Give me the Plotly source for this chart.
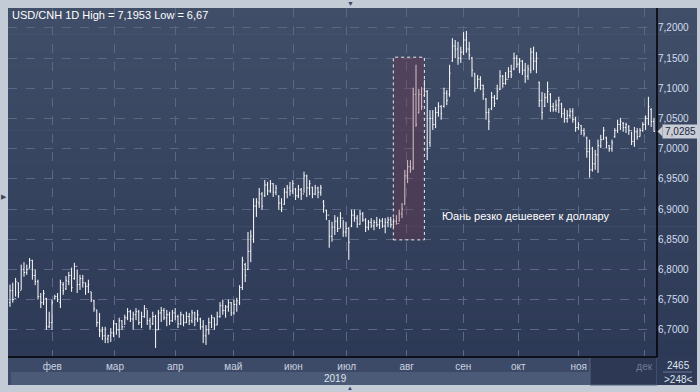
import plotly.graph_objects as go

# ---------------- data ----------------
title_text = "USD/CNH 1D High = 7,1953 Low = 6,67"
note_text = "Юань резко дешевеет к доллару"
month_labels = ["фев", "мар", "апр", "май", "июн", "июл", "авг", "сен", "окт", "ноя", "дек"]
month_pos = [15.1, 37.5, 59.0, 79.75, 101.2, 120.25, 141.7, 161.9, 181.5, 203.1, 226.5]
year_label = "2019"
y_ticks = [6.70, 6.75, 6.80, 6.85, 6.90, 6.95, 7.00, 7.05, 7.10, 7.15, 7.20]
last_price = 7.0285
counter_top = "2465"
counter_bottom = ">248<"
highlight_x = [136.9, 148.0]
highlight_y = [6.849, 7.1515]
note_pos = [153.6, 6.889]

opens = [
    6.745, 6.765, 6.752, 6.778, 6.765, 6.800, 6.795, 6.802, 6.815, 6.790,
    6.780, 6.755, 6.745, 6.752, 6.705, 6.712, 6.752, 6.755, 6.745, 6.775,
    6.768, 6.780, 6.790, 6.785, 6.805, 6.775, 6.785, 6.778, 6.772, 6.763,
    6.748, 6.733, 6.712, 6.698, 6.690, 6.685, 6.690, 6.695, 6.710, 6.700,
    6.715, 6.705, 6.720, 6.730, 6.718, 6.725, 6.730, 6.712, 6.722, 6.735,
    6.715, 6.710, 6.722, 6.700, 6.728, 6.732, 6.720, 6.725, 6.715, 6.728,
    6.722, 6.710, 6.725, 6.712, 6.722, 6.715, 6.728, 6.718, 6.718, 6.705,
    6.690, 6.700, 6.712, 6.720, 6.708, 6.722, 6.740, 6.732, 6.738, 6.745,
    6.728, 6.742, 6.745, 6.770, 6.808, 6.800, 6.830, 6.850, 6.905, 6.910,
    6.925, 6.922, 6.940, 6.930, 6.942, 6.928, 6.921, 6.910, 6.908, 6.928,
    6.935, 6.930, 6.933, 6.922, 6.932, 6.925, 6.955, 6.935, 6.936, 6.925,
    6.935, 6.928, 6.912, 6.898, 6.890, 6.855, 6.870, 6.880, 6.868, 6.885,
    6.862, 6.868, 6.872, 6.890, 6.885, 6.875, 6.892, 6.882, 6.870, 6.878,
    6.872, 6.878, 6.874, 6.880, 6.872, 6.878, 6.882, 6.874, 6.880, 6.876,
    6.892, 6.908, 6.955, 6.970, 6.968, 7.090, 7.060, 7.090, 7.088, 7.095,
    7.010, 7.050, 7.040, 7.060, 7.070, 7.070, 7.092, 7.090, 7.145, 7.170,
    7.165, 7.150, 7.160, 7.180, 7.165, 7.150, 7.125, 7.100, 7.115, 7.105,
    7.082, 7.060, 7.066, 7.085, 7.083, 7.098, 7.120, 7.108, 7.115, 7.128,
    7.132, 7.150, 7.140, 7.145, 7.130, 7.120, 7.130, 7.160, 7.145, 7.110,
    7.080, 7.070, 7.085, 7.090, 7.070, 7.065, 7.072, 7.074, 7.058, 7.050,
    7.055, 7.062, 7.048, 7.035, 7.038, 7.030, 7.018, 6.995, 6.965, 6.975,
    6.990, 7.005, 7.015, 7.018, 7.005, 7.000, 7.020, 7.030, 7.040, 7.042,
    7.035, 7.036, 7.030, 7.012, 7.028, 7.020, 7.030, 7.040, 7.050, 7.065,
    7.045,
]
highs = [
    6.775, 6.778, 6.786, 6.778, 6.808, 6.812, 6.808, 6.819, 6.816, 6.800,
    6.783, 6.761, 6.766, 6.753, 6.730, 6.750, 6.758, 6.761, 6.783, 6.779,
    6.789, 6.796, 6.803, 6.811, 6.800, 6.791, 6.791, 6.778, 6.783, 6.763,
    6.750, 6.733, 6.728, 6.705, 6.705, 6.692, 6.703, 6.716, 6.711, 6.720,
    6.716, 6.725, 6.736, 6.733, 6.730, 6.736, 6.733, 6.730, 6.741, 6.733,
    6.720, 6.730, 6.725, 6.733, 6.738, 6.736, 6.733, 6.730, 6.733, 6.736,
    6.725, 6.730, 6.725, 6.730, 6.728, 6.733, 6.730, 6.733, 6.720, 6.716,
    6.708, 6.720, 6.725, 6.720, 6.730, 6.746, 6.750, 6.741, 6.750, 6.746,
    6.750, 6.753, 6.774, 6.821, 6.811, 6.862, 6.865, 6.918, 6.918, 6.935,
    6.928, 6.948, 6.945, 6.948, 6.943, 6.940, 6.923, 6.918, 6.935, 6.940,
    6.945, 6.948, 6.935, 6.940, 6.935, 6.962, 6.957, 6.948, 6.937, 6.940,
    6.937, 6.940, 6.915, 6.899, 6.882, 6.879, 6.890, 6.887, 6.895, 6.882,
    6.879, 6.870, 6.899, 6.899, 6.890, 6.899, 6.895, 6.885, 6.882, 6.885,
    6.882, 6.887, 6.884, 6.885, 6.885, 6.887, 6.887, 6.885, 6.890, 6.899,
    6.910, 6.965, 6.981, 6.981, 7.101, 7.139, 7.099, 7.102, 7.114, 7.097,
    7.064, 7.064, 7.069, 7.077, 7.072, 7.101, 7.097, 7.139, 7.183, 7.180,
    7.177, 7.169, 7.193, 7.195, 7.177, 7.152, 7.125, 7.122, 7.120, 7.106,
    7.084, 7.067, 7.094, 7.089, 7.106, 7.130, 7.122, 7.127, 7.135, 7.139,
    7.159, 7.155, 7.150, 7.147, 7.142, 7.139, 7.167, 7.169, 7.160, 7.111,
    7.094, 7.092, 7.111, 7.092, 7.076, 7.081, 7.086, 7.076, 7.067, 7.064,
    7.067, 7.067, 7.053, 7.044, 7.039, 7.034, 7.020, 7.015, 7.003, 6.998,
    7.015, 7.023, 7.036, 7.020, 7.006, 7.015, 7.034, 7.048, 7.051, 7.044,
    7.043, 7.039, 7.028, 7.036, 7.034, 7.034, 7.044, 7.055, 7.086, 7.067,
    7.051,
]
lows = [
    6.738, 6.745, 6.755, 6.753, 6.766, 6.788, 6.791, 6.802, 6.783, 6.774,
    6.750, 6.736, 6.741, 6.700, 6.703, 6.700, 6.750, 6.746, 6.736, 6.758,
    6.766, 6.774, 6.763, 6.783, 6.761, 6.766, 6.770, 6.758, 6.761, 6.746,
    6.730, 6.705, 6.688, 6.683, 6.678, 6.678, 6.680, 6.688, 6.692, 6.687,
    6.700, 6.708, 6.716, 6.713, 6.700, 6.716, 6.708, 6.703, 6.720, 6.708,
    6.700, 6.708, 6.670, 6.700, 6.713, 6.716, 6.706, 6.708, 6.713, 6.716,
    6.703, 6.708, 6.706, 6.711, 6.708, 6.711, 6.706, 6.713, 6.700, 6.678,
    6.675, 6.692, 6.703, 6.700, 6.708, 6.720, 6.725, 6.720, 6.730, 6.723,
    6.725, 6.730, 6.741, 6.766, 6.779, 6.799, 6.812, 6.844, 6.887, 6.902,
    6.899, 6.920, 6.923, 6.927, 6.920, 6.923, 6.899, 6.895, 6.907, 6.918,
    6.922, 6.925, 6.915, 6.918, 6.915, 6.927, 6.920, 6.923, 6.918, 6.923,
    6.918, 6.922, 6.894, 6.882, 6.836, 6.846, 6.857, 6.862, 6.869, 6.854,
    6.854, 6.816, 6.870, 6.879, 6.869, 6.874, 6.879, 6.862, 6.865, 6.869,
    6.865, 6.870, 6.867, 6.869, 6.860, 6.870, 6.869, 6.870, 6.874, 6.879,
    6.885, 6.907, 6.943, 6.960, 6.965, 7.036, 7.058, 7.064, 7.086, 6.981,
    7.003, 7.031, 7.034, 7.053, 7.048, 7.068, 7.072, 7.086, 7.144, 7.150,
    7.139, 7.142, 7.155, 7.159, 7.147, 7.119, 7.094, 7.101, 7.097, 7.081,
    7.048, 7.031, 7.064, 7.069, 7.081, 7.097, 7.101, 7.106, 7.117, 7.117,
    7.130, 7.134, 7.125, 7.122, 7.109, 7.114, 7.125, 7.130, 7.125, 7.069,
    7.048, 7.069, 7.076, 7.061, 7.061, 7.061, 7.059, 7.051, 7.043, 7.043,
    7.051, 7.043, 7.028, 7.031, 7.023, 7.020, 6.985, 6.952, 6.962, 6.965,
    6.960, 7.001, 7.015, 7.001, 6.995, 6.995, 7.018, 7.026, 7.031, 7.028,
    7.026, 7.023, 7.006, 7.003, 7.015, 7.020, 7.028, 7.031, 7.039, 7.036,
    7.028,
]
closes = [
    6.765, 6.750, 6.780, 6.762, 6.800, 6.795, 6.800, 6.815, 6.790, 6.780,
    6.755, 6.745, 6.760, 6.705, 6.712, 6.745, 6.755, 6.750, 6.778, 6.765,
    6.782, 6.790, 6.770, 6.805, 6.775, 6.785, 6.778, 6.772, 6.775, 6.750,
    6.735, 6.712, 6.698, 6.690, 6.685, 6.690, 6.695, 6.710, 6.700, 6.715,
    6.705, 6.720, 6.730, 6.718, 6.725, 6.730, 6.712, 6.722, 6.735, 6.715,
    6.705, 6.722, 6.700, 6.728, 6.732, 6.720, 6.725, 6.715, 6.728, 6.722,
    6.710, 6.725, 6.712, 6.722, 6.715, 6.728, 6.718, 6.725, 6.705, 6.690,
    6.700, 6.712, 6.720, 6.708, 6.722, 6.740, 6.732, 6.738, 6.745, 6.728,
    6.742, 6.748, 6.770, 6.815, 6.790, 6.830, 6.855, 6.905, 6.912, 6.925,
    6.905, 6.940, 6.930, 6.942, 6.928, 6.935, 6.910, 6.902, 6.928, 6.935,
    6.930, 6.942, 6.922, 6.932, 6.925, 6.955, 6.935, 6.942, 6.925, 6.935,
    6.928, 6.935, 6.905, 6.890, 6.855, 6.870, 6.880, 6.868, 6.885, 6.862,
    6.868, 6.845, 6.890, 6.885, 6.875, 6.892, 6.882, 6.870, 6.878, 6.872,
    6.878, 6.874, 6.880, 6.872, 6.878, 6.882, 6.874, 6.880, 6.876, 6.892,
    6.900, 6.955, 6.970, 6.965, 7.090, 7.040, 7.090, 7.070, 7.095, 7.000,
    7.050, 7.040, 7.060, 7.070, 7.058, 7.092, 7.080, 7.125, 7.170, 7.165,
    7.150, 7.160, 7.180, 7.165, 7.155, 7.130, 7.100, 7.115, 7.105, 7.090,
    7.060, 7.045, 7.085, 7.075, 7.095, 7.120, 7.108, 7.115, 7.128, 7.122,
    7.150, 7.140, 7.145, 7.130, 7.120, 7.132, 7.160, 7.145, 7.150, 7.080,
    7.060, 7.085, 7.095, 7.070, 7.065, 7.072, 7.080, 7.058, 7.050, 7.055,
    7.062, 7.048, 7.035, 7.040, 7.030, 7.025, 6.995, 6.965, 6.975, 6.990,
    7.005, 7.015, 7.030, 7.010, 7.000, 7.010, 7.030, 7.040, 7.045, 7.035,
    7.040, 7.030, 7.012, 7.028, 7.020, 7.030, 7.040, 7.050, 7.070, 7.045,
    7.0285,
]
bar_index = list(range(len(closes)))

# ---------------- geometry / style ----------------
W, H = 700, 392
L, R, T, B = 8, 657, 8, 357          # plot area in pixels
PW, PH = R - L, B - T


def px(X):
    return (X - L) / PW


def py(Y):
    return (B - Y) / PH


FONT = "Liberation Sans"
fig = go.Figure()
fig.add_trace(go.Ohlc(
    x=bar_index, open=opens, high=highs, low=lows, close=closes,
    increasing=dict(line=dict(color="#ffffff", width=1)),
    decreasing=dict(line=dict(color="#ffffff", width=1)),
    tickwidth=0.34, hoverinfo="skip", showlegend=False,
))

shapes = []
# vertical gradient background (plot + right axis panel)
n = 40
top_c, bot_c = (64, 78, 104), (45, 57, 86)
for k in range(n):
    t = k / (n - 1)
    c = tuple(round(top_c[j] + (bot_c[j] - top_c[j]) * t) for j in range(3))
    shapes.append(dict(type="rect", xref="paper", yref="paper", layer="below",
                       x0=px(L), x1=px(697), y0=1 - (k + 1) / n - 0.002, y1=1 - k / n,
                       fillcolor="rgb(%d,%d,%d)" % c, line=dict(width=0)))
# month band and year band
shapes.append(dict(type="rect", xref="paper", yref="paper", layer="below",
                   x0=px(L), x1=px(R), y0=py(372), y1=py(B),
                   fillcolor="#3d4a67", line=dict(width=0)))
shapes.append(dict(type="rect", xref="paper", yref="paper", layer="below",
                   x0=px(L), x1=px(R), y0=py(385), y1=py(372),
                   fillcolor="#4b5a77", line=dict(width=0)))
shapes.append(dict(type="rect", xref="paper", yref="paper", layer="below",
                   x0=px(L), x1=px(11), y0=py(385), y1=py(372),
                   fillcolor="#3d4a67", line=dict(width=0)))
# navigator (darker) region
shapes.append(dict(type="rect", xref="paper", yref="paper", layer="below",
                   x0=px(590), x1=px(R), y0=py(385), y1=py(B),
                   fillcolor="#2d3854", line=dict(color="#53627e", width=1)))
# bottom-right counter box
shapes.append(dict(type="rect", xref="paper", yref="paper", layer="below",
                   x0=px(R), x1=px(697), y0=py(385), y1=py(B),
                   fillcolor="#2e3a57", line=dict(width=0)))
shapes.append(dict(type="line", xref="paper", yref="paper", layer="above",
                   x0=px(663), x1=px(692), y0=py(372), y1=py(372),
                   line=dict(color="#6a7892", width=1)))
# separators: black frame lines
shapes.append(dict(type="line", xref="paper", yref="paper", layer="above",
                   x0=px(L), x1=px(R), y0=0, y1=0, line=dict(color="#000000", width=1.5)))
shapes.append(dict(type="line", xref="paper", yref="paper", layer="above",
                   x0=1, x1=1, y0=0, y1=1, line=dict(color="#000000", width=1.5)))
# highlight box
shapes.append(dict(type="rect", xref="x", yref="y", layer="above",
                   x0=highlight_x[0], x1=highlight_x[1], y0=highlight_y[0], y1=highlight_y[1],
                   fillcolor="rgba(129,51,69,0.30)",
                   line=dict(color="#e8e8f0", width=1, dash="dot")))
# price marker arrow
shapes.append(dict(type="path", xref="paper", yref="y", layer="above",
                   path="M %f,%f L %f,%f L %f,%f Z" % (px(657.5), last_price, px(662.5), last_price + 0.0085,
                                                      px(662.5), last_price - 0.0085),
                   fillcolor="#c9cdd5", line=dict(width=0)))

annotations = [
    dict(text=title_text, xref="paper", yref="paper", x=px(10), y=py(15),
         xanchor="left", yanchor="middle", showarrow=False,
         font=dict(family=FONT, size=11, color="#ffffff")),
    dict(text=note_text, xref="x", yref="y", x=note_pos[0], y=note_pos[1],
         xanchor="left", yanchor="middle", showarrow=False,
         font=dict(family=FONT, size=11, color="#ffffff")),
    dict(text=year_label, xref="paper", yref="paper", x=px(335), y=py(378.5),
         xanchor="center", yanchor="middle", showarrow=False,
         font=dict(family=FONT, size=10, color="#dfe5ee")),
    dict(text=counter_top, xref="paper", yref="paper", x=px(678), y=py(365),
         xanchor="center", yanchor="middle", showarrow=False,
         font=dict(family=FONT, size=10, color="#dfe5ee")),
    dict(text=counter_bottom, xref="paper", yref="paper", x=px(678), y=py(379),
         xanchor="center", yanchor="middle", showarrow=False,
         font=dict(family=FONT, size=10, color="#dfe5ee")),
    dict(text=("%.4f" % last_price).replace(".", ","), xref="paper", yref="y",
         x=px(662), y=last_price, xanchor="left", yanchor="middle", showarrow=False,
         bgcolor="#c9cdd5", borderpad=1, width=33,
         font=dict(family=FONT, size=10, color="#1c2740")),
    dict(text="▼", xref="paper", yref="paper", x=px(350), y=py(3),
         xanchor="center", yanchor="middle", showarrow=False,
         font=dict(size=7, color="#3a4660")),
    dict(text="▲", xref="paper", yref="paper", x=px(350), y=py(387.5),
         xanchor="center", yanchor="middle", showarrow=False,
         font=dict(size=6, color="#3a4660")),
    dict(text="▶", xref="paper", yref="paper", x=px(4), y=py(196),
         xanchor="center", yanchor="middle", showarrow=False,
         font=dict(size=7, color="#3a4660")),
]

tick_text = [m if m != "дек" else '<span style="color:#6f7d96">%s</span>' % m for m in month_labels]

fig.update_layout(
    width=W, height=H,
    margin=dict(l=L, r=W - R, t=T, b=H - B, pad=0),
    paper_bgcolor="#c3cbd7",
    plot_bgcolor="rgba(0,0,0,0)",
    separators=", ",
    showlegend=False,
    shapes=shapes,
    annotations=annotations,
    xaxis=dict(
        range=[-0.71, 231.07], tickmode="array", tickvals=month_pos, ticktext=tick_text,
        showgrid=True, gridcolor="#596985", griddash="dash", gridwidth=1,
        zeroline=False, showline=False, ticks="", ticklabelstandoff=2,
        tickfont=dict(family=FONT, size=10, color="#c9d3e1"),
        rangeslider=dict(visible=False), fixedrange=True,
    ),
    yaxis=dict(
        range=[6.655, 7.233], side="right", tickmode="array", tickvals=y_ticks,
        tickformat=".4f", showgrid=True, gridcolor="#596985", griddash="dash", gridwidth=1,
        zeroline=False, showline=False, ticks="",
        tickfont=dict(family=FONT, size=10, color="#d3deec"),
        fixedrange=True,
    ),
)

fig.write_html("out.html")
